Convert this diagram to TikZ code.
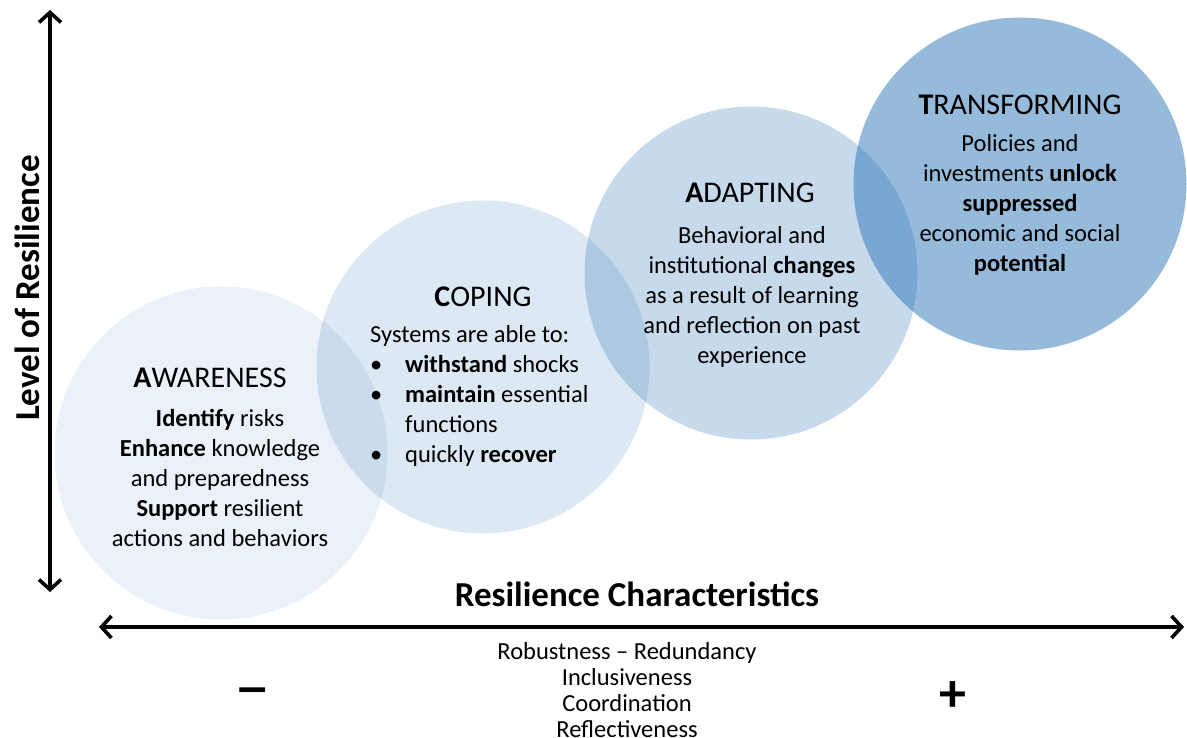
\documentclass[tikz,border=0pt]{standalone}
\usepackage{fontspec}
\setmainfont{Carlito}
\usetikzlibrary{arrows.meta}
\definecolor{basecol}{HTML}{2E75B6}
\tikzset{
  blob/.style={circle, minimum size=333pt, inner sep=0pt, draw=none, fill=basecol},
  axis/.style={line width=3.6pt, {Straight Barb[length=10pt,width=22pt,line width=3.6pt]}-{Straight Barb[length=10pt,width=22pt,line width=3.6pt]}},
  ttl/.style={font=\fontsize{30}{34}\selectfont, inner sep=0pt},
  body/.style={font=\fontsize{24.5}{30}\selectfont, align=center, inner sep=0pt},
  axlabel/.style={font=\fontsize{35}{38}\selectfont\bfseries, inner sep=0pt},
  sign/.style={font=\fontsize{54}{54}\selectfont\bfseries, inner sep=0pt},
  chars/.style={font=\fontsize{24.5}{26}\selectfont, align=center, inner sep=0pt}
}
\begin{document}
\begin{tikzpicture}[x=1pt,y=-1pt]
\useasboundingbox (0,0) rectangle (1187,738);
% circles
\node[blob, fill opacity=0.10] (aw) at (221,453) {};
\node[blob, fill opacity=0.17] (co) at (483,367) {};
\node[blob, fill opacity=0.27] (ad) at (751,273) {};
\node[blob, fill opacity=0.50] (tr) at (1020,184) {};
% axes
\coordinate (vtop) at (50,10);
\coordinate (vbot) at (50,592);
\coordinate (hleft) at (99,627);
\coordinate (hright) at (1184,627);
\draw[axis] (vtop) -- (vbot);
\draw[axis] (hleft) -- (hright);
\node[axlabel, rotate=90] (ylab) at (27,288) {Level of Resilience};
\node[axlabel] (xlab) at (637,594) {Resilience Characteristics};
% awareness
\node[ttl] (awt) at (210,378) {\textbf{A}WARENESS};
\node[body] (awb) at (220,478) {\textbf{Identify} risks\\\textbf{Enhance} knowledge\\and preparedness\\\textbf{Support} resilient\\actions and behaviors};
% coping
\node[ttl] (cot) at (483,297) {\textbf{C}OPING};
\node[anchor=west, inner sep=0pt, font=\fontsize{24.5}{30}\selectfont] (cob) at (370,396) {\begin{tabular}{@{}p{35pt}@{}l@{}}
\multicolumn{2}{@{}l@{}}{Systems are able to:}\\
\textbullet & \textbf{withstand} shocks\\
\textbullet & \textbf{maintain} essential\\
 & functions\\
\textbullet & quickly \textbf{recover}
\end{tabular}};
% adapting
\node[ttl] (adt) at (750,193) {\textbf{A}DAPTING};
\node[body] (adb) at (752,297) {Behavioral and\\institutional \textbf{changes}\\as a result of learning\\and reflection on past\\experience};
% transforming
\node[ttl] (trt) at (1020,105) {\textbf{T}RANSFORMING};
\node[body] (trb) at (1020,205) {Policies and\\investments \textbf{unlock}\\\textbf{suppressed}\\economic and social\\\textbf{potential}};
% bottom
\node[chars] (ch) at (627,690) {Robustness -- Redundancy\\Inclusiveness\\Coordination\\Reflectiveness};
\node[sign, xscale=1.35] (minus) at (253,697) {–};
\node[sign] (plus) at (953,697) {+};
\end{tikzpicture}
\end{document}
